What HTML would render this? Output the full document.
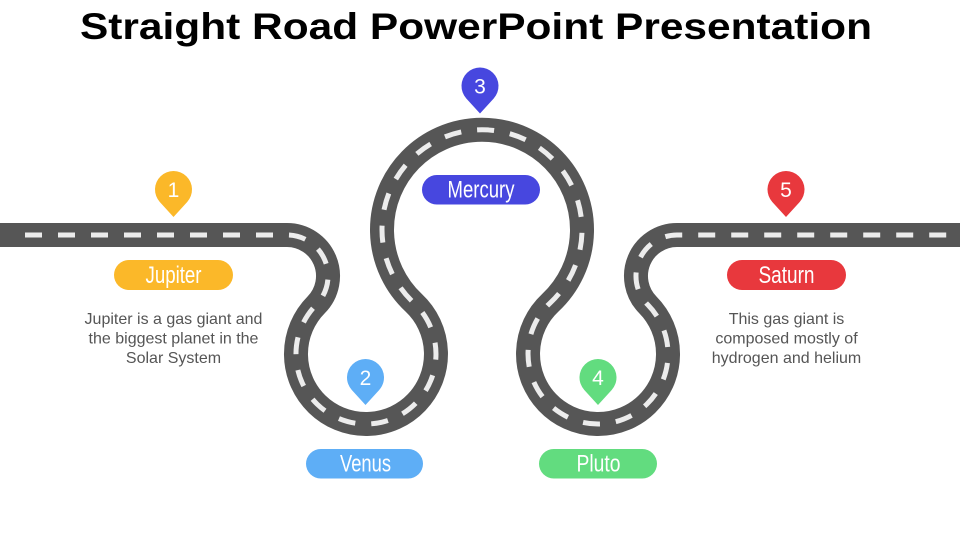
<!DOCTYPE html>
<html>
<head>
<meta charset="utf-8">
<style>
  html,body{margin:0;padding:0;background:#fff;}
  svg{display:block;}
  .pill{font-family:"Liberation Sans Narrow","Liberation Sans",sans-serif;font-size:24px;fill:#fff;}
  .num{font-family:"Liberation Sans Narrow","Liberation Sans",sans-serif;font-size:21px;fill:#fff;}
  .desc{font-family:"Liberation Sans",sans-serif;font-size:16px;fill:#555;}
</style>
</head>
<body>
<svg width="960" height="540" viewBox="0 0 960 540" xmlns="http://www.w3.org/2000/svg">
  <rect width="960" height="540" fill="#fff"/>
  <text x="80" y="39" font-family="Liberation Sans, Arial, sans-serif" font-weight="bold" font-size="37" fill="#000" textLength="792" lengthAdjust="spacingAndGlyphs">Straight Road PowerPoint Presentation</text>

  <!-- Road -->
  <path d="M -5 235 L 287 235 A 41 41 0 0 1 316.2 304.8 A 70 70 0 1 0 413.8 302.9 A 100 100 0 1 1 550.2 302.9 A 70 70 0 1 0 647.8 304.8 A 41 41 0 0 1 677 235 L 965 235"
        fill="none" stroke="#565656" stroke-width="24"/>
  <path d="M 25 235 L 287 235 A 41 41 0 0 1 316.2 304.8 A 70 70 0 1 0 413.8 302.9 A 100 100 0 1 1 550.2 302.9 A 70 70 0 1 0 647.8 304.8 A 41 41 0 0 1 677 235 L 960 235"
        fill="none" stroke="#ececec" stroke-width="5" stroke-dasharray="17 16"/>

  <!-- Pins -->
  <g transform="translate(173.5,189.5)">
    <path d="M0,27.5 L-13.7,12.45 A18.5,18.5 0 1 1 13.7,12.45 Z" fill="#FBB829"/>
    <text x="0" y="7.5" text-anchor="middle" class="num">1</text>
  </g>
  <g transform="translate(365.5,377.5)">
    <path d="M0,27.5 L-13.7,12.45 A18.5,18.5 0 1 1 13.7,12.45 Z" fill="#5EAEF6"/>
    <text x="0" y="7.5" text-anchor="middle" class="num">2</text>
  </g>
  <g transform="translate(480,86)">
    <path d="M0,27.5 L-13.7,12.45 A18.5,18.5 0 1 1 13.7,12.45 Z" fill="#4747DF"/>
    <text x="0" y="7.5" text-anchor="middle" class="num">3</text>
  </g>
  <g transform="translate(598,377.5)">
    <path d="M0,27.5 L-13.7,12.45 A18.5,18.5 0 1 1 13.7,12.45 Z" fill="#62DC7F"/>
    <text x="0" y="7.5" text-anchor="middle" class="num">4</text>
  </g>
  <g transform="translate(786,189.5)">
    <path d="M0,27.5 L-13.7,12.45 A18.5,18.5 0 1 1 13.7,12.45 Z" fill="#E8383D"/>
    <text x="0" y="7.5" text-anchor="middle" class="num">5</text>
  </g>

  <!-- Pills -->
  <rect x="114" y="260" width="119" height="30" rx="15" fill="#FBB829"/>
  <text x="173.5" y="283" text-anchor="middle" class="pill" textLength="56" lengthAdjust="spacingAndGlyphs">Jupiter</text>

  <rect x="422" y="175" width="118" height="29.5" rx="14.75" fill="#4747DF"/>
  <text x="481" y="197.5" text-anchor="middle" class="pill" textLength="67" lengthAdjust="spacingAndGlyphs">Mercury</text>

  <rect x="306" y="449" width="117" height="29.5" rx="14.75" fill="#5EAEF6"/>
  <text x="365.5" y="471.5" text-anchor="middle" class="pill" textLength="51" lengthAdjust="spacingAndGlyphs">Venus</text>

  <rect x="539" y="449" width="118" height="29.5" rx="14.75" fill="#62DC7F"/>
  <text x="598.5" y="471.5" text-anchor="middle" class="pill" textLength="44" lengthAdjust="spacingAndGlyphs">Pluto</text>

  <rect x="727" y="260" width="119" height="30" rx="15" fill="#E8383D"/>
  <text x="786.5" y="283" text-anchor="middle" class="pill" textLength="56" lengthAdjust="spacingAndGlyphs">Saturn</text>

  <!-- Descriptions -->
  <text x="173.5" y="324" text-anchor="middle" class="desc">Jupiter is a gas giant and</text>
  <text x="173.5" y="343.5" text-anchor="middle" class="desc">the biggest planet in the</text>
  <text x="173.5" y="363" text-anchor="middle" class="desc">Solar System</text>

  <text x="786.5" y="324" text-anchor="middle" class="desc">This gas giant is</text>
  <text x="786.5" y="343.5" text-anchor="middle" class="desc">composed mostly of</text>
  <text x="786.5" y="363" text-anchor="middle" class="desc">hydrogen and helium</text>
</svg>
</body>
</html>
